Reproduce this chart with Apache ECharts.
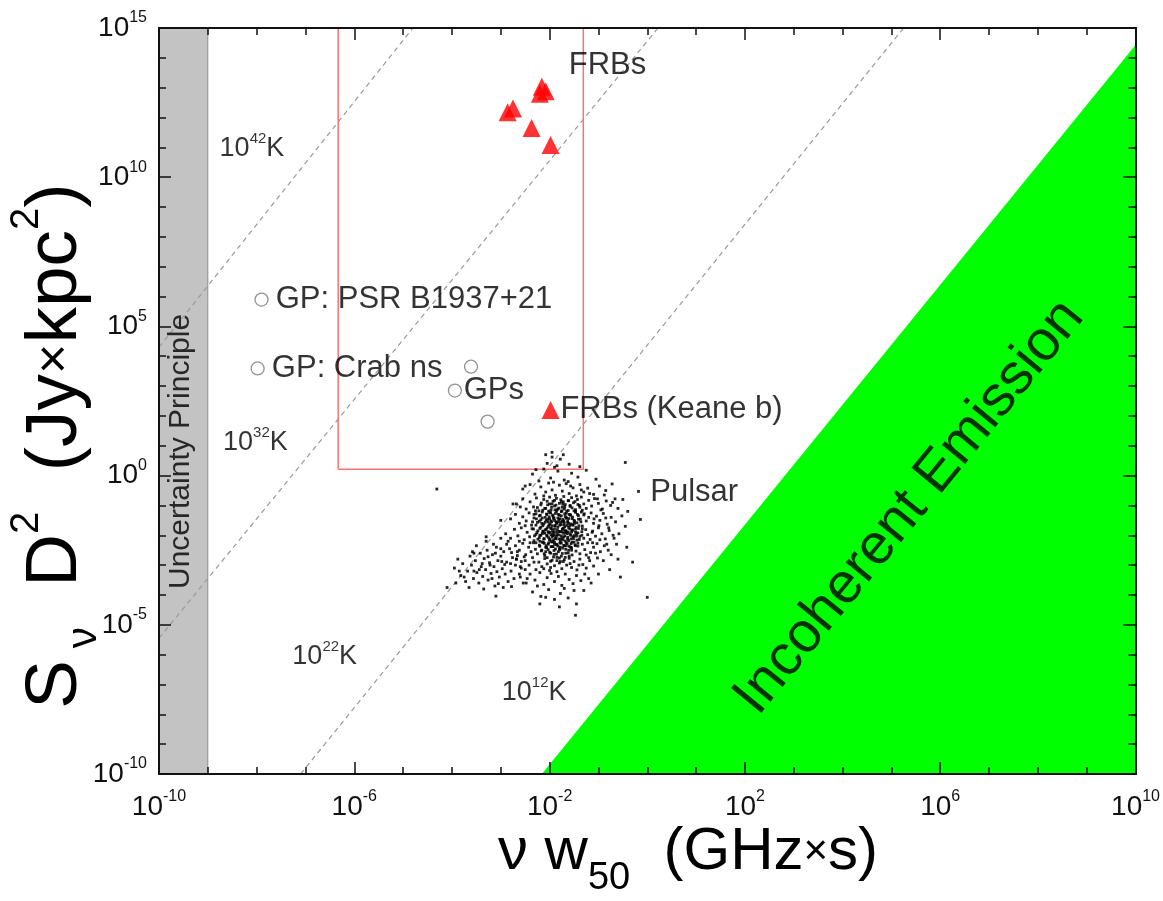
<!DOCTYPE html>
<html><head><meta charset="utf-8">
<script src="https://cdn.jsdelivr.net/npm/echarts@6/dist/echarts.min.js"></script>
<style>html,body{margin:0;padding:0;background:#fff}#chart{width:1163px;height:901px}</style>
</head><body><div id="chart"></div>
<script>
// ---------------- DATA (values stored as log10 exponents) ----------------
const xMajorExp = [-10, -6, -2, 2, 6, 10];
const xDecadeExp = [-10,-9,-8,-7,-6,-5,-4,-3,-2,-1,0,1,2,3,4,5,6,7,8,9,10];
const yMajorExp = [-10, -5, 0, 5, 10, 15];
const yDecadeExp = [-10,-9,-8,-7,-6,-5,-4,-3,-2,-1,0,1,2,3,4,5,6,7,8,9,10,11,12,13,14,15];

// FRBs (red triangles): [log10(nu*w50), log10(S*D^2)]
const frbLog = [[-2.16,13.03],[-2.08,12.88],[-2.2,12.8],[-2.86,12.18],[-2.75,12.3],[-2.37,11.65],[-1.98,11.08]];
const frbKeaneLog = [[-1.98,2.2]];
// Giant pulses (open circles)
const gpPsrLog = [[-7.9,5.9]];
const gpCrabLog = [[-7.98,3.59]];
const gpsLog = [[-3.61,3.65],[-3.94,2.85],[-3.27,1.81]];

// Brightness-temperature lines (end points) and incoherent limit
const t42Line = [[-10,4.3],[-4.8,15]];
const t32Line = [[-10,-5.45],[0.22,15]];
const t22Line = [[-7.1,-10],[5.25,15]];
const incoherentEdge = [[-2.16,-10],[10,14.43]];
const uncertaintyBand = [-10, -9];              // x-range of grey band
const selectionBox = [[-6.33,0.21],[-1.31,15]]; // red rectangle corners

// Pulsar population (black dots)
const pulsarLog = [
[-1.95,0.62],[-1.78,0.55],[-2.05,0.41],[-1.6,0.38],[-1.85,0.33],[-1.72,0.7],
[-2.35,0.05],[-2.12,0.22],[-1.98,-0.08],[-1.83,0.15],[-1.7,-0.15],[-1.55,0.08],[-1.42,-0.05],[-1.25,0.18],[-1.05,-0.12],[-2.22,-0.18],[-1.9,0.28],[-1.62,-0.2],
[-2.55,-0.45],[-2.4,-0.3],[-2.3,-0.62],[-2.18,-0.38],[-2.08,-0.55],[-2.02,-0.25],[-1.95,-0.48],[-1.88,-0.66],[-1.8,-0.32],[-1.74,-0.52],[-1.66,-0.27],[-1.6,-0.6],[-1.52,-0.41],[-1.45,-0.68],[-1.38,-0.3],[-1.3,-0.55],[-1.22,-0.42],[-1.1,-0.63],[-0.98,-0.35],[-0.85,-0.5],[-0.72,-0.28],[-2.12,-0.68],[-1.92,-0.22],[-1.57,-0.35],[-1.35,-0.48],
[-2.68,-0.95],[-2.55,-0.78],[-2.48,-1.12],[-2.4,-0.88],[-2.33,-1.05],[-2.27,-0.75],[-2.22,-1.18],[-2.17,-0.92],[-2.12,-0.8],[-2.08,-1.1],[-2.04,-0.98],[-2.0,-0.72],[-1.97,-1.15],[-1.93,-0.86],[-1.9,-1.02],[-1.86,-0.76],[-1.83,-1.12],[-1.8,-0.93],[-1.77,-0.81],[-1.74,-1.06],[-1.71,-0.7],[-1.68,-0.97],[-1.65,-1.19],[-1.62,-0.84],[-1.58,-1.03],[-1.55,-0.74],[-1.51,-0.91],[-1.47,-1.14],[-1.43,-0.8],[-1.39,-1.0],[-1.35,-0.72],[-1.3,-0.95],[-1.25,-1.1],[-1.2,-0.83],[-1.14,-1.02],[-1.08,-0.77],[-1.0,-0.93],[-0.92,-1.12],[-0.84,-0.85],[-0.75,-1.0],[-0.66,-0.78],[-2.6,-1.05],[-1.95,-0.95],[-1.72,-0.88],[-1.5,-1.18],
[-2.8,-1.45],[-2.7,-1.3],[-2.62,-1.6],[-2.55,-1.38],[-2.48,-1.52],[-2.42,-1.25],[-2.37,-1.66],[-2.32,-1.42],[-2.28,-1.28],[-2.25,-1.57],[-2.21,-1.35],[-2.18,-1.48],[-2.15,-1.22],[-2.12,-1.62],[-2.09,-1.4],[-2.06,-1.3],[-2.03,-1.55],[-2.0,-1.45],[-1.98,-1.24],[-1.95,-1.68],[-1.93,-1.36],[-1.9,-1.5],[-1.88,-1.27],[-1.85,-1.6],[-1.83,-1.42],[-1.8,-1.33],[-1.78,-1.56],[-1.76,-1.21],[-1.73,-1.47],[-1.71,-1.65],[-1.68,-1.37],[-1.66,-1.26],[-1.63,-1.53],[-1.61,-1.44],[-1.58,-1.31],[-1.56,-1.62],[-1.53,-1.39],[-1.5,-1.5],[-1.47,-1.23],[-1.44,-1.58],[-1.41,-1.34],[-1.37,-1.46],[-1.33,-1.69],[-1.29,-1.28],[-1.25,-1.52],[-1.2,-1.4],[-1.15,-1.25],[-1.1,-1.6],[-1.04,-1.36],[-0.97,-1.5],[-0.9,-1.27],[-0.82,-1.63],[-0.74,-1.4],[-0.65,-1.55],[-2.5,-1.68],[-2.02,-1.7],[-1.86,-1.2],[-1.7,-1.58],[-1.52,-1.66],[-1.35,-1.22],
[-2.9,-1.95],[-2.8,-2.1],[-2.72,-1.8],[-2.65,-2.02],[-2.58,-1.75],[-2.52,-2.15],[-2.46,-1.9],[-2.41,-2.05],[-2.36,-1.78],[-2.32,-2.18],[-2.28,-1.97],[-2.24,-1.85],[-2.21,-2.08],[-2.18,-1.73],[-2.15,-1.94],[-2.12,-2.13],[-2.09,-1.82],[-2.06,-2.0],[-2.03,-1.88],[-2.0,-2.17],[-1.98,-1.76],[-1.95,-2.05],[-1.93,-1.92],[-1.9,-1.8],[-1.88,-2.1],[-1.85,-1.98],[-1.83,-1.72],[-1.8,-1.87],[-1.78,-2.14],[-1.76,-2.02],[-1.73,-1.79],[-1.71,-1.93],[-1.68,-2.19],[-1.66,-1.85],[-1.63,-2.07],[-1.61,-1.74],[-1.58,-1.96],[-1.56,-2.12],[-1.53,-1.83],[-1.5,-2.01],[-1.47,-1.9],[-1.44,-2.16],[-1.41,-1.77],[-1.38,-2.04],[-1.34,-1.88],[-1.3,-2.1],[-1.26,-1.81],[-1.22,-1.98],[-1.17,-2.14],[-1.12,-1.86],[-1.06,-2.03],[-1.0,-1.75],[-0.93,-1.95],[-0.86,-2.12],[-0.78,-1.84],[-0.7,-2.0],[-2.62,-2.2],[-2.2,-2.2],[-1.97,-1.98],[-1.74,-1.89],[-1.86,-2.03],[-1.62,-1.9],[-2.1,-1.93],[-1.92,-2.15],[-1.46,-1.73],
[-3.0,-2.45],[-2.88,-2.3],[-2.78,-2.58],[-2.7,-2.35],[-2.62,-2.5],[-2.55,-2.27],[-2.49,-2.65],[-2.43,-2.4],[-2.38,-2.55],[-2.33,-2.25],[-2.29,-2.47],[-2.25,-2.62],[-2.21,-2.33],[-2.17,-2.52],[-2.13,-2.24],[-2.1,-2.68],[-2.06,-2.42],[-2.03,-2.3],[-2.0,-2.57],[-1.97,-2.38],[-1.94,-2.22],[-1.91,-2.64],[-1.88,-2.46],[-1.85,-2.32],[-1.82,-2.55],[-1.79,-2.26],[-1.76,-2.7],[-1.73,-2.43],[-1.7,-2.35],[-1.67,-2.6],[-1.64,-2.28],[-1.61,-2.5],[-1.57,-2.4],[-1.54,-2.66],[-1.5,-2.23],[-1.46,-2.53],[-1.42,-2.36],[-1.38,-2.62],[-1.33,-2.3],[-1.28,-2.48],[-1.22,-2.25],[-1.16,-2.58],[-1.1,-2.4],[-1.03,-2.28],[-0.96,-2.55],[-0.88,-2.35],[-0.8,-2.5],[-2.66,-2.68],[-2.4,-2.25],[-2.08,-2.55],[-1.9,-2.3],[-1.8,-2.45],[-1.6,-2.7],[-1.48,-2.32],[-1.25,-2.66],
[-2.8,-2.95],[-2.68,-2.8],[-2.58,-3.1],[-2.5,-2.85],[-2.42,-3.0],[-2.35,-2.75],[-2.28,-3.15],[-2.22,-2.9],[-2.16,-3.05],[-2.1,-2.78],[-2.05,-2.96],[-2.0,-3.18],[-1.95,-2.84],[-1.9,-3.02],[-1.85,-2.74],[-1.8,-2.93],[-1.75,-3.12],[-1.7,-2.82],[-1.65,-3.0],[-1.6,-2.77],[-1.55,-3.08],[-1.5,-2.88],[-1.44,-3.16],[-1.38,-2.8],[-1.32,-2.98],[-1.25,-3.1],[-1.18,-2.85],[-1.1,-3.03],[-1.02,-2.76],[-2.32,-2.9],[-1.98,-3.08],[-1.78,-2.88],[-1.58,-2.95],[-2.12,-3.12],[-1.4,-3.0],
[-2.6,-3.4],[-2.48,-3.6],[-2.4,-3.3],[-2.3,-3.5],[-2.2,-3.25],[-2.12,-3.65],[-2.05,-3.42],[-1.97,-3.28],[-1.9,-3.55],[-1.82,-3.38],[-1.75,-3.68],[-1.68,-3.3],[-1.6,-3.48],[-1.52,-3.62],[-1.45,-3.35],[-1.36,-3.52],[-1.28,-3.3],[-1.2,-3.45],[-2.25,-3.7],[-1.85,-3.22],
[-2.35,-3.9],[-2.18,-4.05],[-2.02,-3.82],[-1.9,-4.15],[-1.78,-3.95],[-1.62,-4.1],[-1.5,-3.85],[-1.7,-3.78],
[-3.95,-3.1],[-3.88,-2.8],[-3.82,-3.35],[-3.78,-2.95],[-3.72,-3.55],[-3.68,-3.2],[-3.63,-2.7],[-3.6,-3.0],[-3.56,-3.45],[-3.52,-2.85],[-3.49,-3.25],[-3.45,-3.6],[-3.42,-2.6],[-3.4,-3.05],[-3.37,-3.38],[-3.34,-2.78],[-3.31,-3.15],[-3.28,-2.5],[-3.26,-3.5],[-3.23,-2.92],[-3.2,-3.28],[-3.17,-2.65],[-3.14,-3.05],[-3.12,-3.7],[-3.09,-2.4],[-3.06,-2.85],[-3.03,-3.4],[-3.0,-2.7],[-2.97,-3.12],[-2.94,-2.55],[-2.91,-3.3],[-2.88,-2.9],[-2.85,-3.55],[-2.82,-2.45],[-2.79,-3.2],[-2.76,-2.75],[-2.73,-3.45],[-2.7,-3.0],[-2.66,-2.55],[-2.62,-3.3],[-2.58,-2.88],[-2.54,-3.6],[-2.5,-3.15],[-2.46,-3.45],[-3.5,-2.35],[-3.3,-2.2],[-3.15,-2.3],[-3.0,-2.1],[-2.85,-2.2],[-3.65,-3.75],[-3.35,-3.8],[-3.05,-3.62],[-2.78,-3.72],[-3.44,-3.15],[-3.22,-3.0],[-3.08,-3.22],[-2.98,-2.88],[-3.58,-2.55],[-3.75,-3.4],[-3.92,-3.6],[-3.26,-2.72],[-3.11,-2.6],[-2.92,-2.98],[-2.68,-2.8],[-3.38,-2.95],[-3.18,-3.45],[-2.95,-3.75],[-3.55,-3.2],[-2.6,-3.05],[-2.52,-2.72],
[-4.1,-3.75],[-3.85,-3.2],[-3.55,-2.6],[-3.3,-2.05],[-3.0,-1.5],[-2.75,-0.95],[-2.5,-0.35],[-2.28,0.2],[-2.08,0.7],
[-4.31,-0.45],[-0.45,0.44],[-0.18,-0.53],[-0.14,-1.47],[0.0,-4.08],[-1.47,-4.68],[-2.08,-4.08],[-3.1,-4.04],[-1.95,0.78],[-1.38,0.3],[-0.3,-2.9],[-0.55,-3.4],
[-2.05,-1.75],[-1.99,-1.62],[-1.94,-1.85],[-1.89,-1.7],[-1.84,-1.9],[-1.79,-1.66],[-1.74,-1.8],[-1.69,-1.72],[-1.64,-1.95],[-1.59,-1.68],[-2.02,-2.08],[-1.96,-2.22],[-1.91,-2.0],[-1.86,-2.3],[-1.81,-2.12],[-1.76,-2.26],[-1.71,-2.06],[-1.66,-2.35],[-1.61,-2.18],[-1.56,-2.28],[-2.07,-1.5],[-2.01,-1.38],[-1.96,-1.55],[-1.91,-1.42],[-1.86,-1.58],[-1.81,-1.47],[-1.76,-1.35],[-1.71,-1.52],[-1.66,-1.43],[-1.61,-1.6],[-2.14,-1.86],[-2.11,-2.27],[-2.16,-1.6],[-1.54,-1.82],[-1.52,-2.05],[-1.49,-1.6],[-2.2,-2.0],[-1.45,-1.95],[-1.99,-1.9],[-1.73,-2.15],[-1.83,-1.55],[-1.68,-1.85],[-1.93,-2.38],[-1.78,-2.4],[-2.0,-1.25],[-1.85,-1.15],[-1.7,-1.12],[-1.6,-1.3],[-1.55,-2.42],[-2.08,-2.4],
[-2.05,-0.86],[-1.9,-0.83],[-1.76,-0.88],[-1.61,-0.84],[-1.48,-0.87],
[-2.18,-0.98],[-2.0,-0.95],[-1.87,-0.99],[-1.73,-0.96],[-1.58,-1.0],[-1.42,-0.97],
[-2.25,-1.07],[-2.1,-1.1],[-1.96,-1.06],[-1.81,-1.09],[-1.69,-1.05],[-1.54,-1.08],[-1.38,-1.06],
[-2.29,-1.18],[-2.14,-1.16],[-2.02,-1.19],[-1.89,-1.15],[-1.75,-1.18],[-1.62,-1.17],[-1.47,-1.2],[-1.33,-1.16],
[-2.32,-1.3],[-2.19,-1.33],[-2.06,-1.29],[-1.94,-1.32],[-1.82,-1.3],[-1.69,-1.28],[-1.57,-1.33],[-1.43,-1.3],[-1.3,-1.32],
[-2.27,-1.45],[-2.15,-1.42],[-2.04,-1.46],[-1.92,-1.43],[-1.79,-1.45],[-1.66,-1.41],[-1.54,-1.44],[-1.41,-1.46],
[-2.35,-1.55],[-2.21,-1.53],[-2.09,-1.56],[-1.97,-1.52],[-1.87,-1.55],[-1.74,-1.54],[-1.63,-1.57],[-1.49,-1.53],[-1.36,-1.55],
[-2.28,-1.66],[-2.14,-1.68],[-2.01,-1.65],[-1.89,-1.67],[-1.77,-1.64],[-1.65,-1.67],[-1.53,-1.65],[-1.4,-1.68],
[-2.33,-1.79],[-2.2,-1.77],[-2.07,-1.8],[-1.96,-1.78],[-1.84,-1.81],[-1.72,-1.77],[-1.59,-1.79],[-1.47,-1.8],[-1.33,-1.78],
[-2.26,-1.91],[-2.13,-1.89],[-2.02,-1.92],[-1.9,-1.9],[-1.78,-1.88],[-1.66,-1.91],[-1.55,-1.89],[-1.42,-1.92],
[-2.31,-2.02],[-2.18,-2.0],[-2.05,-2.03],[-1.93,-2.01],[-1.81,-1.99],[-1.69,-2.02],[-1.57,-2.0],[-1.45,-2.03],[-1.34,-2.0],
[-2.24,-2.13],[-2.11,-2.11],[-1.99,-2.14],[-1.87,-2.12],[-1.75,-2.1],[-1.63,-2.13],[-1.51,-2.11],[-1.39,-2.14],
[-2.28,-2.25],[-2.15,-2.23],[-2.02,-2.26],[-1.9,-2.24],[-1.78,-2.22],[-1.66,-2.25],[-1.54,-2.23],[-1.42,-2.26],
[-2.2,-2.37],[-2.07,-2.35],[-1.95,-2.38],[-1.83,-2.36],[-1.71,-2.34],[-1.6,-2.37],[-1.47,-2.35],
[-2.16,-2.5],[-2.03,-2.48],[-1.91,-2.51],[-1.79,-2.49],[-1.67,-2.47],[-1.55,-2.5],
[-2.11,-2.62],[-1.98,-2.6],[-1.86,-2.63],[-1.74,-2.61],[-1.62,-2.59],
[-2.05,-2.75],[-1.92,-2.73],[-1.8,-2.76],[-1.68,-2.74],
[-1.98,-2.87],[-1.85,-2.85],[-1.72,-2.88],
[-1.18,-0.6],[-1.02,-0.78],[-0.88,-0.65],[-0.71,-0.9],[-0.6,-1.1],[-0.52,-1.35],[-0.45,-1.7],[-0.58,-1.95],[-0.63,-2.3],[-0.74,-2.65],[-0.9,-2.85],[-1.06,-2.6],[-1.13,-1.9],[-0.99,-1.68],[-0.85,-1.42],[-0.95,-1.15],[-1.09,-1.45],[-0.79,-1.75],[-0.68,-2.1],[-0.83,-2.3],[-0.97,-2.15],[-1.12,-2.25],[-1.2,-2.75],[-0.5,-0.8],[-0.4,-1.2],[-0.42,-2.4],[-0.6,-2.8],[-0.77,-3.15],[-1.0,-3.3],[-1.15,-3.6],[-1.3,-3.85],[-1.45,-4.3],[-1.8,-4.4],[-2.2,-4.3]
];

// Text annotations: label text and anchor (log10 x, log10 y)
const annotations = [
  {text:'{t|FRBs}', at:[-1.61,13.73]},
  {text:'{t|GP: PSR B1937+21}', at:[-7.61,5.9]},
  {text:'{t|GP: Crab ns}', at:[-7.69,3.59]},
  {text:'{t|GPs}', at:[-3.76,2.85]},
  {text:'{t|FRBs (Keane b)}', at:[-1.78,2.2]},
  {text:'{t|Pulsar}', at:[0.06,-0.56]},
  {text:'{n|10}{s|42}{n|K}', at:[-8.76,10.95]},
  {text:'{n|10}{s|32}{n|K}', at:[-8.69,1.11]},
  {text:'{n|10}{s|22}{n|K}', at:[-7.27,-6.05]},
  {text:'{n|10}{s|12}{n|K}', at:[-2.98,-7.26]}
];
const rotatedNotes = [
  {text:'Incoherent Emission', at:[5.37,-1.06], rotate:50.7, size:57},
  {text:'Uncertainty Principle', at:[-9.55,0.81], rotate:90, size:30}
];

// ---------------- BUILD ----------------
const P = e => Math.pow(10, e);
const toXY = arr => arr.map(p => [P(p[0]), P(p[1])]);
const FONT = '"Liberation Sans", Arial, Helvetica, sans-serif';
const INK = '#111';
const EPS = 1.000001;
const X_MIN = P(-10) / EPS, X_MAX = P(10) * EPS, Y_MIN = P(-10) / EPS, Y_MAX = P(15) * EPS;

function expLabel(v){ const e = Math.round(Math.log10(v)); return '{b|10}{s|' + e + '}'; }
const tickRich = {
  b:{fontSize:28, lineHeight:36, fontFamily:FONT, color:'#111'},
  s:{fontSize:16, lineHeight:16, verticalAlign:'top', fontFamily:FONT, color:'#111'}
};

function axis(dim, position, exps, len, labelOpts){
  return {
    type:'log', logBase:10, position,
    min: dim==='x'?X_MIN:Y_MIN, max: dim==='x'?X_MAX:Y_MAX,
    z: 6,
    axisLine:{show:true, onZero:false, lineStyle:{color:INK, width:2}},
    axisTick:{show:true, inside:true, length:len, customValues: exps.map(P), lineStyle:{color:INK, width:1.5}},
    axisLabel: labelOpts ? Object.assign({show:true, customValues: exps.map(P), formatter: expLabel, rich: tickRich,
      fontFamily:FONT, showMinLabel:true, showMaxLabel:true, hideOverlap:false}, labelOpts) : {show:false},
    splitLine:{show:false}, minorTick:{show:false}, minorSplitLine:{show:false}
  };
}

const xAxes = [
  axis('x','bottom', xMajorExp, 12, {margin:15}),
  axis('x','bottom', xDecadeExp, 7),
  axis('x','top', xMajorExp, 12),
  axis('x','top', xDecadeExp, 7)
];
const yAxes = [
  axis('y','left', yMajorExp, 12, {margin:12}),
  axis('y','left', yDecadeExp, 7),
  axis('y','right', yMajorExp, 12),
  axis('y','right', yDecadeExp, 7)
];

function polySeries(name, pts, style, z){
  return {
    type:'custom', name, z, silent:true, clip:true, data:[0],
    renderItem:(params, api) => ({type:'polygon', shape:{points: pts.map(p => api.coord(p))}, style})
  };
}

const greenPoly = [[P(incoherentEdge[0][0]),P(incoherentEdge[0][1])],[P(10),P(-10)],[P(incoherentEdge[1][0]),P(incoherentEdge[1][1])]];
const bandPoly = [[P(uncertaintyBand[0]),P(-10)],[P(uncertaintyBand[1]),P(-10)],[P(uncertaintyBand[1]),P(15)],[P(uncertaintyBand[0]),P(15)]];
const b0 = selectionBox[0], b1 = selectionBox[1];
const boxLine = toXY([[b0[0],b0[1]],[b1[0],b0[1]],[b1[0],b1[1]],[b0[0],b1[1]],[b0[0],b0[1]]]);

function dashed(name, pts){
  return {type:'line', name, data: toXY(pts), symbol:'none', silent:true, z:3,
    lineStyle:{color:'#9a9a9a', width:1.2, type:[5,4]}};
}

const series = [
  polySeries('Incoherent Emission', greenPoly, {fill:'#00ff00'}, 1),
  polySeries('Uncertainty Principle', bandPoly, {fill:'#c3c3c3', stroke:'#8c8c8c', lineWidth:1}, 1),
  dashed('10^42K', t42Line), dashed('10^32K', t32Line), dashed('10^22K', t22Line),
  {type:'line', name:'box', data: boxLine, symbol:'none', silent:true, z:3,
    lineStyle:{color:'#ff7070', width:1.5}},
  {type:'scatter', name:'Pulsar', data: toXY(pulsarLog), symbol:'rect', symbolSize:2.8, z:4,
    itemStyle:{color:'#000', opacity:0.85}},
  {type:'scatter', name:'GP: PSR B1937+21', data: toXY(gpPsrLog), symbol:'circle', symbolSize:13, z:5,
    itemStyle:{color:'#fff', borderColor:'#777', borderWidth:1.3}},
  {type:'scatter', name:'GP: Crab ns', data: toXY(gpCrabLog), symbol:'circle', symbolSize:13, z:5,
    itemStyle:{color:'#fff', borderColor:'#777', borderWidth:1.3}},
  {type:'scatter', name:'GPs', data: toXY(gpsLog), symbol:'circle', symbolSize:13, z:5,
    itemStyle:{color:'#fff', borderColor:'#777', borderWidth:1.3}},
  {type:'scatter', name:'FRBs', data: toXY(frbLog), symbol:'triangle', symbolSize:18, z:5,
    itemStyle:{color:'#ff0000'}},
  {type:'scatter', name:'FRBs (Keane b)', data: toXY(frbKeaneLog), symbol:'triangle', symbolSize:18, z:5,
    itemStyle:{color:'#ff0000'}},
  {type:'scatter', name:'labels', z:7, silent:true, symbolSize:0.1, itemStyle:{color:'rgba(0,0,0,0)'},
    data: annotations.map(a => ({value:[P(a.at[0]),P(a.at[1])], label:{formatter:a.text}})),
    label:{show:true, position:'right', distance:0, fontFamily:FONT,
      rich:{
        t:{fontSize:31, fontFamily:FONT, color:'#000'},
        n:{fontSize:27, lineHeight:34, fontFamily:FONT, color:'#000'},
        s:{fontSize:15, lineHeight:16, verticalAlign:'top', fontFamily:FONT, color:'#000'}
      }}},
  {type:'scatter', name:'notes', z:7, silent:true, symbolSize:0.1, itemStyle:{color:'rgba(0,0,0,0)'},
    data: rotatedNotes.map(a => ({value:[P(a.at[0]),P(a.at[1])],
      label:{formatter:a.text, rotate:a.rotate, fontSize:a.size}})),
    label:{show:true, position:'inside', align:'center', verticalAlign:'middle', fontFamily:FONT, color:'#000'}}
];

const chart = echarts.init(document.getElementById('chart'), null, {renderer:'canvas'});
chart.setOption({
  animation:false,
  backgroundColor:'#ffffff',
  textStyle:{fontFamily:FONT},
  grid:{left:159, right:23, top:28, bottom:127, containLabel:false},
  xAxis: xAxes,
  yAxis: yAxes,
  series,
  graphic:[
    {type:'text', x:688, y:852, silent:true,
      style:{text:'{a|ν w}{b|50}{a|  (GHz}{m|×}{a|s)}', align:'center', verticalAlign:'middle',
        rich:{
          a:{fontSize:60, lineHeight:92, fontFamily:FONT, fill:'#000', color:'#000'},
          b:{fontSize:38, lineHeight:36, verticalAlign:'bottom', fontFamily:FONT, fill:'#000', color:'#000'},
          m:{fontSize:42, lineHeight:92, fontFamily:FONT, fill:'#000', color:'#000'}
        }}},
    {type:'text', x:56, y:446, rotation:Math.PI/2, silent:true,
      style:{text:'{a|S}{b| ν}{a|  D}{c|2}{a|  (Jy}{m|×}{a|kpc}{c|2}{a|)}', align:'center', verticalAlign:'middle',
        rich:{
          a:{fontSize:73, lineHeight:98, fontFamily:FONT, fill:'#000', color:'#000'},
          b:{fontSize:42, lineHeight:20, verticalAlign:'bottom', fontFamily:FONT, fill:'#000', color:'#000'},
          c:{fontSize:40, lineHeight:40, verticalAlign:'top', fontFamily:FONT, fill:'#000', color:'#000'},
          m:{fontSize:52, lineHeight:98, fontFamily:FONT, fill:'#000', color:'#000'}
        }}}
  ]
});
</script></body></html>
